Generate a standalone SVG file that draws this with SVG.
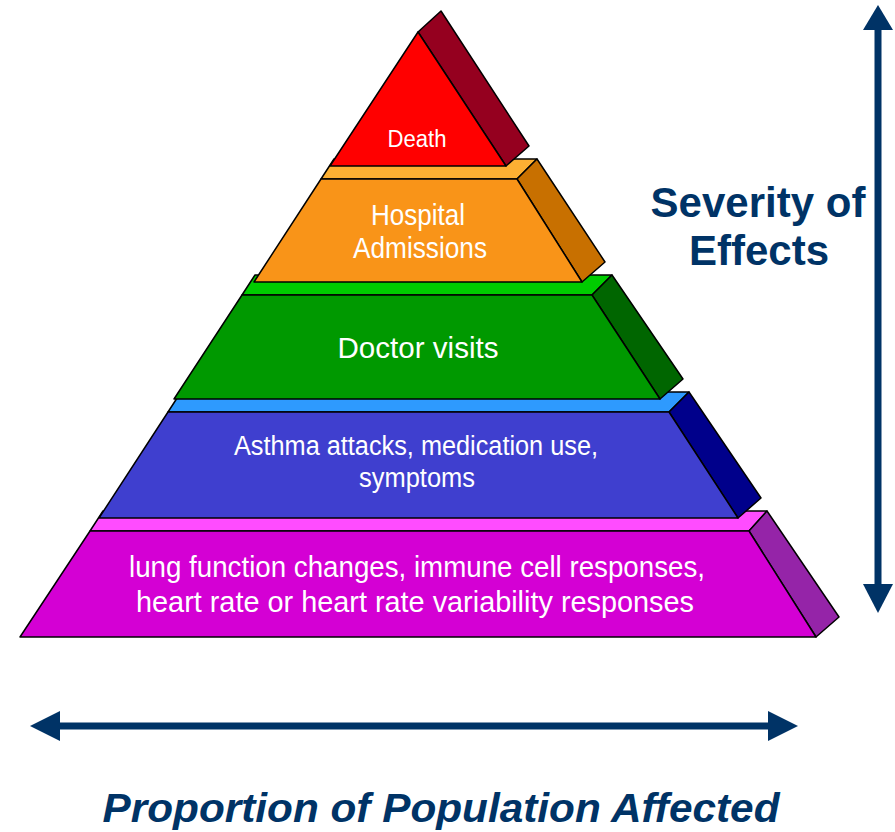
<svg xmlns="http://www.w3.org/2000/svg" width="895" height="832" viewBox="0 0 895 832">
<style>
.f{stroke:#000;stroke-width:1.5;stroke-linejoin:round}
.t{fill:#fff;font-family:"Liberation Sans",Arial,sans-serif;text-anchor:middle}
.b{fill:#003366;font-family:"Liberation Sans",Arial,sans-serif;font-weight:bold;text-anchor:middle}
</style>
<rect width="895" height="832" fill="#fff"/>
<g id="tier-lung">
<polygon class="f" fill="#FF4CFF" points="90,531 749,531 767,511 103,511"/>
<polygon class="f" fill="#9524A8" points="749,531 767,511 839,617 816,637"/>
<polygon class="f" fill="#D400D4" points="90,531 749,531 816,637 20,637"/>
<text class="t" x="417" y="577" font-size="29" textLength="576" lengthAdjust="spacingAndGlyphs">lung function changes, immune cell responses,</text>
<text class="t" x="415" y="612" font-size="29" textLength="558" lengthAdjust="spacingAndGlyphs">heart rate or heart rate variability responses</text>
</g>
<g id="tier-asthma">
<polygon class="f" fill="#2E9AFE" points="168,412 669,412 689,392 181,392"/>
<polygon class="f" fill="#00008B" points="669,412 689,392 761,498 738,518"/>
<polygon class="f" fill="#3F3FCF" points="168,412 669,412 738,518 99,518"/>
<text class="t" x="416" y="455" font-size="27" textLength="364" lengthAdjust="spacingAndGlyphs">Asthma attacks, medication use,</text>
<text class="t" x="417" y="487" font-size="27" textLength="116" lengthAdjust="spacingAndGlyphs">symptoms</text>
</g>
<g id="tier-doctor">
<polygon class="f" fill="#00CC00" points="242,295 592,295 612,275 255,275"/>
<polygon class="f" fill="#006600" points="592,295 612,275 683,379 660,399"/>
<polygon class="f" fill="#009900" points="242,295 592,295 660,399 174,399"/>
<text class="t" x="418" y="358" font-size="30" textLength="161" lengthAdjust="spacingAndGlyphs">Doctor visits</text>
</g>
<g id="tier-hospital">
<polygon class="f" fill="#FDB033" points="321,179 517,179 537,159 334,159"/>
<polygon class="f" fill="#C87000" points="517,179 537,159 605,262 582,282"/>
<polygon class="f" fill="#F99418" points="321,179 517,179 582,282 254,282"/>
<text class="t" x="418" y="225" font-size="30" textLength="94" lengthAdjust="spacingAndGlyphs">Hospital</text>
<text class="t" x="420" y="258" font-size="30" textLength="134" lengthAdjust="spacingAndGlyphs">Admissions</text>
</g>
<g id="tier-death">
<polygon class="f" fill="#95001F" points="418,32 441,11 529,146 506,166"/>
<polygon class="f" fill="#FF0000" points="418,32 506,166 330,166"/>
<text class="t" x="417" y="147" font-size="23" textLength="59" lengthAdjust="spacingAndGlyphs">Death</text>
</g>
<g id="connectors">
<line x1="878" y1="28" x2="878" y2="586" stroke="#003366" stroke-width="7"/>
<polygon fill="#003366" points="878,5 893,30 863,30"/>
<polygon fill="#003366" points="878,613 893,584 863,584"/>
<line x1="58" y1="726" x2="770" y2="726" stroke="#003366" stroke-width="7"/>
<polygon fill="#003366" points="30,726 60,711 60,741"/>
<polygon fill="#003366" points="798,726 768,711 768,741"/>
</g>
<g id="label-severity">
<text class="b" x="758" y="217" font-size="42">Severity of</text>
<text class="b" x="759" y="265" font-size="42">Effects</text>
</g>
<g id="label-proportion">
<text class="b" x="441" y="822" font-size="41" font-style="italic" textLength="677" lengthAdjust="spacingAndGlyphs">Proportion of Population Affected</text>
</g>
</svg>
